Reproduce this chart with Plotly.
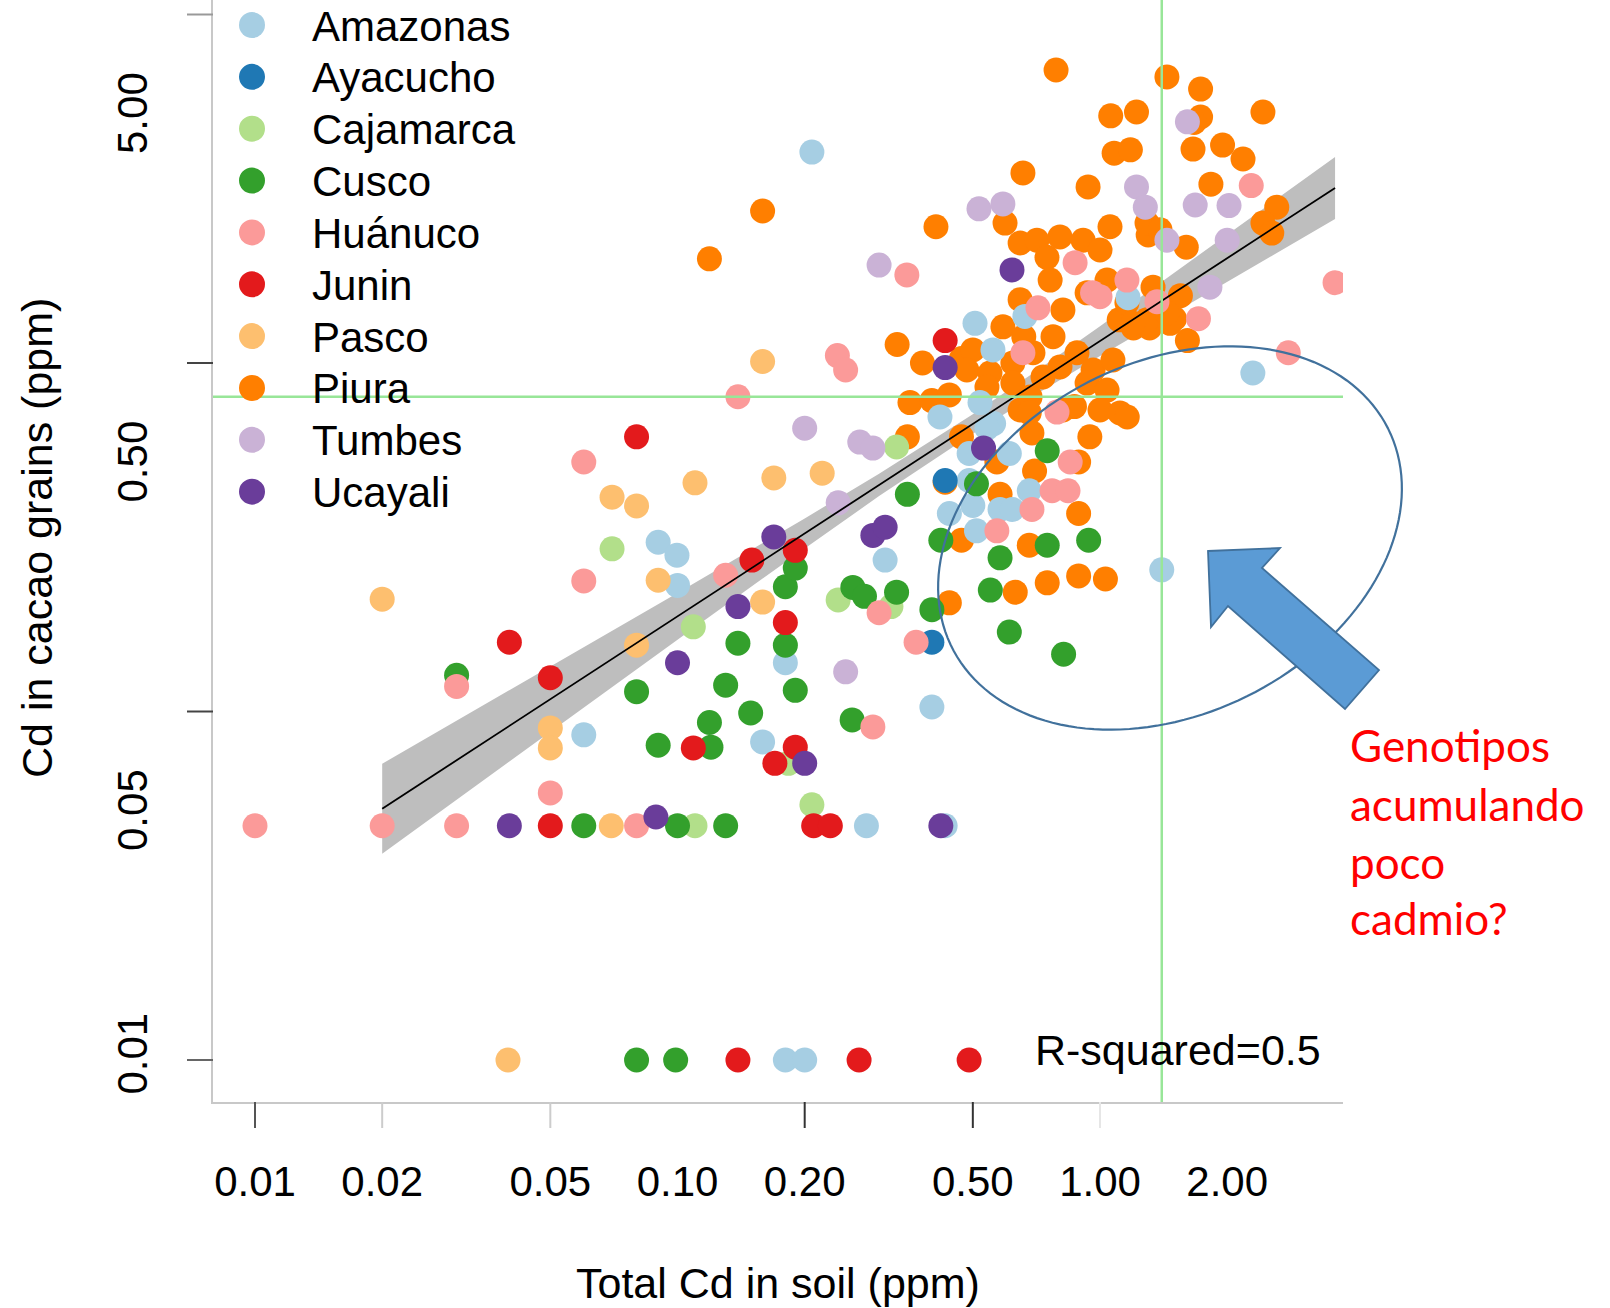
import numpy as np
import plotly.graph_objects as go

# ---------------- data ----------------
provinces = ["Amazonas", "Ayacucho", "Cajamarca", "Cusco", "Huánuco",
             "Junin", "Pasco", "Piura", "Tumbes", "Ucayali"]
colors = ["#A6CEE3", "#1F78B4", "#B2DF8A", "#33A02C", "#FB9A99",
          "#E31A1C", "#FDBF6F", "#FF7F00", "#CAB2D6", "#6A3D9A"]

amazonas_x = [0.06, 0.09, 0.0997, 0.1, 0.159, 0.18, 0.208, 0.31, 0.28, 0.43, 0.18, 0.20, 0.40, 0.418, 0.52, 0.56,
              0.61, 0.49, 0.54, 0.49, 0.44, 0.50, 0.58, 0.62, 0.68, 0.51, 1.4, 2.30, 0.506, 0.664, 0.558, 1.165]
amazonas_y = [0.0857, 0.306, 0.281, 0.23, 0.0818, 0.138, 4.03, 0.272, 0.047, 0.047, 0.01, 0.01, 0.103, 0.70, 0.77, 0.67,
              0.55, 0.55, 0.65, 0.46, 0.37, 0.39, 0.38, 0.38, 0.43, 0.33, 0.255, 0.936, 1.30, 1.36, 1.09, 1.54]

ayacucho_x = [0.43, 0.40]
ayacucho_y = [0.46, 0.158]

cajamarca_x = [0.07, 0.109, 0.11, 0.24, 0.32, 0.33, 0.208, 0.183]
cajamarca_y = [0.293, 0.175, 0.047, 0.209, 0.20, 0.574, 0.054, 0.071]

cusco_x = [0.03, 0.08, 0.09, 0.12, 0.119, 0.13, 0.139, 0.149, 0.18, 0.19, 0.18, 0.19, 0.26, 0.277, 0.33, 0.259,
           0.06, 0.10, 0.13, 0.08, 0.099, 0.75, 0.35, 0.42, 0.75, 0.94, 0.58, 0.55, 0.40, 0.51, 0.61, 0.82]
cusco_y = [0.127, 0.114, 0.080, 0.079, 0.093, 0.119, 0.157, 0.099, 0.228, 0.258, 0.155, 0.115, 0.227, 0.214, 0.22, 0.0946,
           0.047, 0.047, 0.047, 0.01, 0.01, 0.56, 0.42, 0.31, 0.30, 0.31, 0.276, 0.223, 0.196, 0.45, 0.169, 0.146]

huanuco_x = [0.01, 0.02, 0.03, 0.08, 0.03, 0.05, 0.06, 0.06, 0.13, 0.139, 0.239, 0.25, 0.29, 0.30, 0.349, 0.367,
             0.85, 0.77, 0.84, 0.69, 0.57, 2.28, 3.6, 2.79, 0.96, 1.71, 0.873, 0.713, 1.0, 1.158, 1.364, 0.657, 0.791]
huanuco_y = [0.047, 0.047, 0.047, 0.047, 0.118, 0.0584, 0.52, 0.237, 0.246, 0.80, 1.05, 0.955, 0.0903, 0.192, 1.79, 0.158,
             0.52, 0.43, 0.43, 0.38, 0.33, 3.23, 1.70, 1.07, 1.59, 1.34, 1.94, 1.44, 1.55, 1.73, 1.50, 1.07, 0.723]

junin_x = [0.04, 0.05, 0.08, 0.15, 0.19, 0.18, 0.109, 0.19, 0.17, 0.05, 0.21, 0.23, 0.139, 0.269, 0.49, 0.43]
junin_y = [0.158, 0.125, 0.614, 0.272, 0.29, 0.18, 0.0786, 0.079, 0.071, 0.047, 0.047, 0.047, 0.01, 0.01, 0.01, 1.16]

pasco_x = [0.02, 0.05, 0.05, 0.07, 0.08, 0.09, 0.08, 0.11, 0.159, 0.169, 0.22, 0.159, 0.0397, 0.0697]
pasco_y = [0.21, 0.0897, 0.0786, 0.412, 0.389, 0.238, 0.155, 0.453, 1.01, 0.468, 0.483, 0.206, 0.01, 0.047]

piura_x = [0.787, 1.44, 1.73, 1.06, 1.22, 2.43, 1.73, 1.67, 1.08, 1.18, 1.66, 1.95, 2.18, 0.657, 0.937, 1.83,
           2.62, 2.43, 2.55, 0.409, 1.3, 1.60, 1.55, 1.50, 1.61, 1.2, 1.31, 1.11, 0.331, 0.38, 0.47,
           0.596, 0.647, 0.709, 0.749, 0.804, 0.912, 1.0, 1.056, 0.762, 0.647, 0.817, 0.932, 1.039, 1.158,
           1.292, 1.335, 1.465, 0.589, 0.500, 0.484, 0.549, 0.622, 0.694, 0.774, 0.804, 0.733, 0.622, 0.540,
           0.683, 0.882, 0.963, 1.073, 0.932, 1.039, 0.647, 0.817, 1.0, 1.115, 1.292, 1.387, 1.197,
           0.66, 1.44, 0.355, 0.40, 0.44, 0.68, 0.87, 1.16, 0.946, 0.35, 0.47, 0.57, 0.69, 0.70, 0.89,
           0.43, 0.58, 0.89, 0.47, 0.68, 0.63, 0.75, 0.89, 1.03, 0.44, 0.119, 0.159]
piura_y = [6.93, 6.62, 6.11, 5.12, 5.25, 5.25, 5.08, 4.9, 4.0, 4.09, 4.11, 4.22, 3.85, 3.51, 3.2, 3.26,
           2.8, 2.52, 2.36, 2.46, 2.33, 2.15, 1.56, 1.34, 1.16, 1.26, 1.26, 1.33, 1.13, 1.0, 1.03,
           2.52, 2.21, 2.25, 2.01, 2.30, 2.25, 2.11, 2.46, 1.73, 1.52, 1.42, 1.59, 1.73, 1.49,
           1.33, 1.65, 1.30, 1.27, 1.09, 0.955, 0.936, 1.0, 1.07, 1.19, 0.974, 0.912, 0.876, 0.853,
           0.799, 1.07, 0.955, 1.02, 0.876, 0.836, 0.733, 0.733, 0.733, 0.719, 2.52, 2.41, 1.30,
           1.19, 1.39, 0.77, 0.78, 0.81, 0.72, 0.75, 0.70, 0.614, 0.614, 0.614, 0.52, 0.63, 0.49, 0.52,
           0.455, 0.42, 0.37, 0.31, 0.30, 0.22, 0.234, 0.245, 0.24, 0.205, 1.99, 2.73]

tumbes_x = [0.20, 0.24, 0.27, 0.29, 0.25, 0.30, 1.61, 1.22, 1.28, 1.68, 2.02, 2.0, 1.82, 0.517, 0.589, 1.44]
tumbes_y = [0.65, 0.397, 0.593, 0.57, 0.13, 1.91, 4.92, 3.2, 2.8, 2.84, 2.83, 2.25, 1.65, 2.77, 2.86, 2.25]

ucayali_x = [0.04, 0.0889, 0.1, 0.139, 0.169, 0.20, 0.29, 0.31, 0.42, 0.43, 0.619, 0.53]
ucayali_y = [0.047, 0.0498, 0.138, 0.20, 0.317, 0.071, 0.32, 0.338, 0.047, 0.97, 1.85, 0.57]

# regression line and its confidence band
fit_x = [0.02, 3.6]
fit_y = [0.0526, 3.18]
band_x = [0.02, 0.05, 0.1, 0.2, 0.3, 0.5, 0.7, 1.0, 2.0, 3.6]
band_lo = [0.0391, 0.0875, 0.1607, 0.2938, 0.415, 0.6266, 0.808, 1.0476, 1.714, 2.588]
band_hi = [0.0708, 0.1343, 0.2188, 0.3581, 0.481, 0.7129, 0.941, 1.2757, 2.333, 3.899]

grain_limit = 0.8   # horizontal reference line
soil_limit = 1.4    # vertical reference line

x_tickvals = [0.01, 0.02, 0.05, 0.1, 0.2, 0.5, 1, 2]
x_ticktext = ["0.01", "0.02", "0.05", "0.10", "0.20", "0.50", "1.00", "2.00"]
y_tickvals = [0.01, 0.05, 0.5, 5]
y_ticktext = ["0.01", "0.05", "0.50", "5.00"]

series = {
    "Amazonas": (amazonas_x, amazonas_y), "Ayacucho": (ayacucho_x, ayacucho_y),
    "Cajamarca": (cajamarca_x, cajamarca_y), "Cusco": (cusco_x, cusco_y),
    "Huánuco": (huanuco_x, huanuco_y), "Junin": (junin_x, junin_y),
    "Pasco": (pasco_x, pasco_y), "Piura": (piura_x, piura_y),
    "Tumbes": (tumbes_x, tumbes_y), "Ucayali": (ucayali_x, ucayali_y),
}

# ---------------- layout geometry ----------------
FW, FH = 1610, 1308
L, R, T, B = 213, 1343, 0, 1102
xr = [-2.0994, 0.5751]
yr = [-2.1205, 1.0416]
FONT = "Liberation Sans, Arial, sans-serif"


def xp(px):
    return (px - L) / (R - L)


def yp(py):
    return (B - py) / (B - T)


def xv(v):
    return (np.log10(v) - xr[0]) / (xr[1] - xr[0])


def yv(v):
    return (np.log10(v) - yr[0]) / (yr[1] - yr[0])


fig = go.Figure()

# confidence band
fig.add_trace(go.Scatter(x=band_x + band_x[::-1], y=band_lo + band_hi[::-1],
                         fill="toself", fillcolor="#BEBEBE", mode="lines",
                         line=dict(width=0), hoverinfo="skip"))

# points: Piura first (underneath), then the others
order = ["Piura", "Amazonas", "Ayacucho", "Cajamarca", "Cusco", "Huánuco",
         "Junin", "Pasco", "Tumbes", "Ucayali"]
for name in order:
    xs, ys = series[name]
    c = colors[provinces.index(name)]
    fig.add_trace(go.Scatter(x=xs, y=ys, mode="markers", name=name,
                             marker=dict(size=25, color=c, line=dict(width=0))))

# regression line
fig.add_trace(go.Scatter(x=fit_x, y=fit_y, mode="lines",
                         line=dict(color="black", width=1.8), hoverinfo="skip"))

# reference lines
fig.add_trace(go.Scatter(x=[10 ** xr[0], 10 ** xr[1]], y=[grain_limit, grain_limit], mode="lines",
                         line=dict(color="#98E698", width=2.5), hoverinfo="skip"))
fig.add_trace(go.Scatter(x=[soil_limit, soil_limit], y=[10 ** yr[0], 10 ** yr[1]], mode="lines",
                         line=dict(color="#98E698", width=2.5), hoverinfo="skip"))

shapes = []
annotations = []

# tick marks
for v, c in [(0.01, "#555555"), (0.02, "#CCCCCC"), (0.05, "#CCCCCC"),
             (0.2, "#333333"), (0.5, "#333333"), (1, "#E6E6E6")]:
    shapes.append(dict(type="line", xref="paper", yref="paper", x0=xv(v), x1=xv(v),
                       y0=yp(B), y1=yp(B + 26), line=dict(color=c, width=2)))
for v, c in [(10, "#999999"), (1, "#444444"), (0.1, "#444444"), (0.01, "#666666")]:
    shapes.append(dict(type="line", xref="paper", yref="paper", x0=xp(187), x1=xp(L),
                       y0=yv(v), y1=yv(v), line=dict(color=c, width=2)))

# legend (drawn manually to match sizes)
for i, name in enumerate(provinces):
    cy = 25 + 51.85 * i
    shapes.append(dict(type="circle", xref="paper", yref="paper",
                       x0=xp(239), x1=xp(265), y0=yp(cy + 13), y1=yp(cy - 13),
                       fillcolor=colors[i], line=dict(width=0)))
    annotations.append(dict(xref="paper", yref="paper", x=xp(310), y=yp(cy + 1),
                            xanchor="left", yanchor="middle", text=name, showarrow=False,
                            font=dict(family=FONT, size=42, color="black")))

# ellipse
cx, cy, a, b, th = 1170, 538, 244, 176, np.deg2rad(26.7)
t = np.linspace(0, 2 * np.pi, 160)
ex = cx + a * np.cos(t) * np.cos(th) + b * np.sin(t) * np.sin(th)
ey = cy - a * np.cos(t) * np.sin(th) + b * np.sin(t) * np.cos(th)
path = "M " + " L ".join(f"{xp(x_):.5f},{yp(y_):.5f}" for x_, y_ in zip(ex, ey)) + " Z"
shapes.append(dict(type="path", xref="paper", yref="paper", path=path,
                   line=dict(color="#41719C", width=2.2), layer="above"))

# block arrow
arrow_px = [(1208, 551), (1280, 548), (1262, 568), (1379, 670), (1345, 709), (1228, 606), (1211, 627)]
apath = "M " + " L ".join(f"{xp(x_):.5f},{yp(y_):.5f}" for x_, y_ in arrow_px) + " Z"
shapes.append(dict(type="path", xref="paper", yref="paper", path=apath,
                   fillcolor="#5B9BD5", line=dict(color="#41719C", width=1.8), layer="above"))

# red comment text
for txt, yy in [("Genotipos", 745), ("acumulando", 804), ("poco", 862), ("cadmio?", 918)]:
    annotations.append(dict(xref="paper", yref="paper", x=xp(1348), y=yp(yy),
                            xanchor="left", yanchor="middle", text=txt, showarrow=False,
                            font=dict(family="Lato, Open Sans, sans-serif", size=44, color="#FF0000")))

# R-squared
annotations.append(dict(xref="paper", yref="paper", x=xp(1323), y=yp(1050),
                        xanchor="right", yanchor="middle", text="R-squared=0.5", showarrow=False,
                        font=dict(family=FONT, size=43, color="black")))

# axis titles
annotations.append(dict(xref="paper", yref="paper", x=xp(778), y=yp(1283),
                        xanchor="center", yanchor="middle", text="Total Cd in soil (ppm)", showarrow=False,
                        font=dict(family=FONT, size=43, color="black")))
annotations.append(dict(xref="paper", yref="paper", x=xp(37), y=yp(538),
                        xanchor="center", yanchor="middle", text="Cd in cacao grains (ppm)", showarrow=False,
                        textangle=-90, font=dict(family=FONT, size=43, color="black")))

fig.update_layout(
    width=FW, height=FH,
    margin=dict(l=L, r=FW - R, t=T, b=FH - B, autoexpand=False),
    paper_bgcolor="white", plot_bgcolor="white",
    showlegend=False,
    shapes=shapes, annotations=annotations,
    xaxis=dict(type="log", range=xr, showgrid=False, zeroline=False,
               showline=True, linecolor="#C8C8C8", linewidth=2,
               tickvals=x_tickvals, ticktext=x_ticktext, ticks="",
               ticklabelstandoff=42,
               tickfont=dict(family=FONT, size=42, color="black")),
    yaxis=dict(type="log", range=yr, showgrid=False, zeroline=False,
               showline=True, linecolor="#C8C8C8", linewidth=2,
               tickvals=y_tickvals, ticktext=y_ticktext, ticks="",
               tickangle=-90, ticklabelstandoff=47,
               tickfont=dict(family=FONT, size=42, color="black")),
)

fig.write_html("out.html")
